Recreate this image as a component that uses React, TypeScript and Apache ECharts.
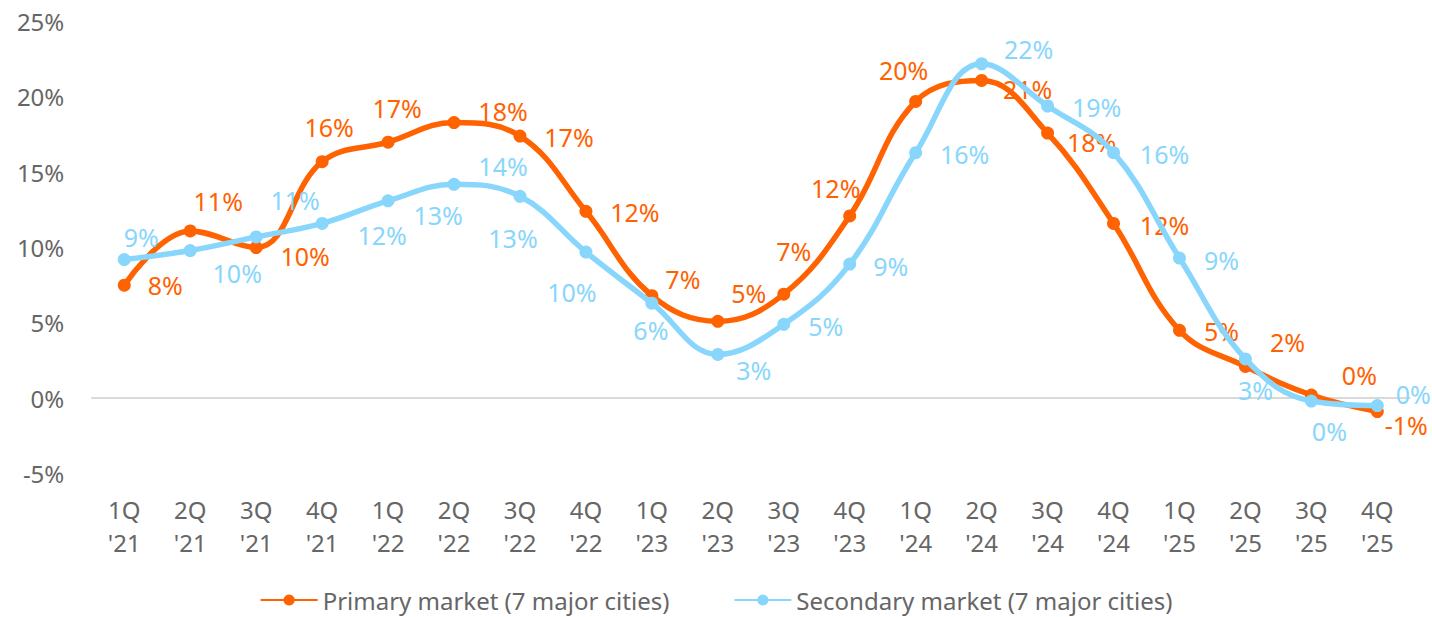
import React, { useEffect, useRef } from "react";
import * as echarts from "echarts";

const categories = [
  "1Q\n'21", "2Q\n'21", "3Q\n'21", "4Q\n'21",
  "1Q\n'22", "2Q\n'22", "3Q\n'22", "4Q\n'22",
  "1Q\n'23", "2Q\n'23", "3Q\n'23", "4Q\n'23",
  "1Q\n'24", "2Q\n'24", "3Q\n'24", "4Q\n'24",
  "1Q\n'25", "2Q\n'25", "3Q\n'25", "4Q\n'25",
];

const primaryValues = [
  7.5, 11.1, 10.0, 15.7,
  17.0, 18.3, 17.4, 12.4,
  6.8, 5.1, 6.9, 12.1,
  19.7, 21.1, 17.6, 11.6,
  4.5, 2.1, 0.2, -0.9,
];

const secondaryValues = [
  9.2, 9.8, 10.7, 11.6,
  13.1, 14.2, 13.4, 9.7,
  6.3, 2.9, 4.9, 8.9,
  16.3, 22.2, 19.4, 16.3,
  9.3, 2.6, -0.2, -0.5,
];

const yTicks = { min: -5, max: 25, interval: 5 };

// label placement (pixel offsets from each point), layout only
const primaryLabelOffsets: [number, number][] = [
  [41, 0], [28, -30], [49, 8], [7, -35],
  [9, -34], [49, -12], [49, 1], [49, 1],
  [31, -17], [31, -28], [10, -43], [-14, -28],
  [-12, -31], [46, 9], [44, 9], [51, 2],
  [42, 1], [42, -24], [48, -20], [29, 13],
];
const secondaryLabelOffsets: [number, number][] = [
  [17, -23], [47, 22], [39, -37], [60, 12],
  [50, 14], [49, -18], [-7, 42], [-14, 40],
  [-1, 27], [36, 16], [42, 2], [41, 2],
  [49, 1], [47, -15], [49, 1], [51, 1],
  [42, 2], [10, 31], [18, 30], [36, -12],
];

const ORANGE = "#FF6200";
const BLUE = "#89D6FD";
const AXIS_TEXT = "#666666";
const FONT = "'Noto Sans', sans-serif";

function pct(v: number) {
  const r = Math.round(v);
  return (r === 0 ? 0 : r) + "%";
}

function buildData(values: number[], offsets: [number, number][]) {
  return values.map((v, i) => ({
    value: v,
    label: { offset: offsets[i] },
  }));
}

export default function App() {
  const ref = useRef<HTMLDivElement>(null);

  useEffect(() => {
    if (!ref.current) return;
    const chart = echarts.init(ref.current, null, { renderer: "svg" });
    const labelBase = (color: string) => ({
      show: true,
      position: "inside",
      color,
      fontSize: 25,
      fontFamily: FONT,
      align: "center",
      verticalAlign: "middle",
      formatter: (p: any) => pct(p.value),
    });
    chart.setOption({
      animation: false,
      backgroundColor: "#ffffff",
      grid: { left: 91.3, right: 21.7, top: 21.7, bottom: 143.7, containLabel: false },
      legend: {
        top: 583,
        left: "center",
        itemWidth: 57,
        itemHeight: 14,
        itemGap: 64,
        textStyle: { color: AXIS_TEXT, fontSize: 24, fontFamily: FONT },
        data: ["Primary market (7 major cities)", "Secondary market (7 major cities)"],
      },
      xAxis: {
        type: "category",
        data: categories,
        boundaryGap: true,
        axisLine: { show: false, onZero: false },
        axisTick: { show: false },
        splitLine: { show: false },
        axisLabel: {
          color: AXIS_TEXT,
          fontSize: 24,
          lineHeight: 33,
          margin: 20,
          fontFamily: FONT,
          interval: 0,
        },
      },
      yAxis: {
        type: "value",
        min: yTicks.min,
        max: yTicks.max,
        interval: yTicks.interval,
        axisLine: { show: false },
        axisTick: { show: false },
        splitLine: { show: false },
        axisLabel: {
          color: AXIS_TEXT,
          fontSize: 24,
          margin: 27,
          fontFamily: FONT,
          formatter: "{value}%",
        },
      },
      series: [
        {
          name: "Primary market (7 major cities)",
          type: "line",
          data: buildData(primaryValues, primaryLabelOffsets),
          smooth: 0.4,
          symbol: "circle",
          symbolSize: 13,
          lineStyle: { color: ORANGE, width: 5.5 },
          itemStyle: { color: ORANGE },
          label: labelBase(ORANGE),
          z: 3,
          markLine: {
            silent: true,
            symbol: ["none", "none"],
            label: { show: false },
            lineStyle: { color: "#d9d9d9", width: 2, type: "solid" },
            data: [{ yAxis: 0 }],
            z: 1,
          },
        },
        {
          name: "Secondary market (7 major cities)",
          type: "line",
          data: buildData(secondaryValues, secondaryLabelOffsets),
          smooth: 0.4,
          symbol: "circle",
          symbolSize: 13,
          lineStyle: { color: BLUE, width: 5.5 },
          itemStyle: { color: BLUE },
          label: labelBase(BLUE),
          z: 4,
        },
      ],
    });
    return () => chart.dispose();
  }, []);

  return (
    <div
      ref={ref}
      style={{ position: "fixed", left: 0, top: 0, width: 1432, height: 617, background: "#fff" }}
    />
  );
}
